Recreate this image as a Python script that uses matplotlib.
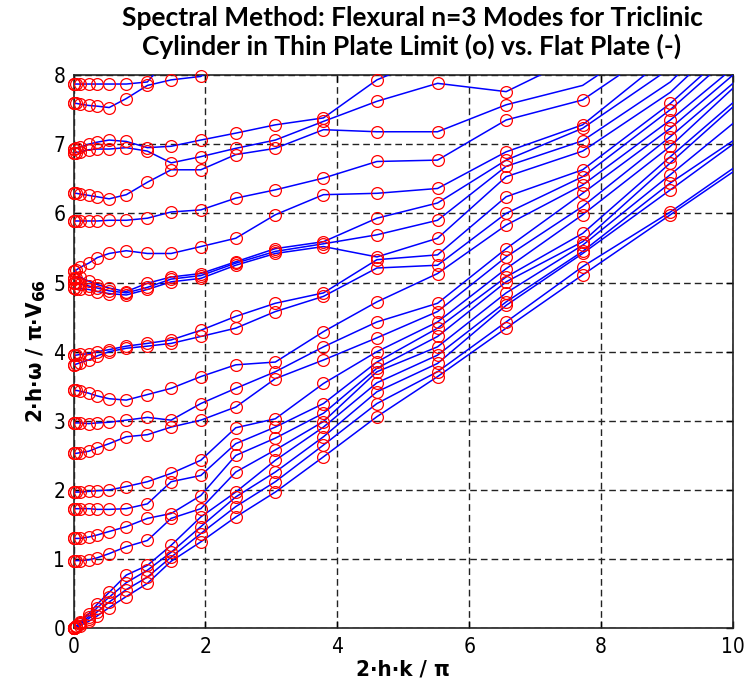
import numpy as np
import matplotlib
matplotlib.use("Agg")
import matplotlib.pyplot as plt
from matplotlib import font_manager

# ---------------- data ----------------
k_cols = [0, 0.01, 0.04, 0.1, 0.23, 0.36, 0.54, 0.8, 1.12, 1.48, 1.93,
          2.46, 3.06, 3.79, 4.6, 5.52, 6.56, 7.72, 9.05, 10]

# frequencies of each column (mode order), one list per k column
w_cols = [
    [0, 0, 0, 0, 0.98, 1.30, 1.73, 1.97, 2.53, 2.97, 3.44, 3.81, 3.95, 4.92, 5.00, 5.05, 5.16, 5.89, 6.29, 6.88, 6.93, 7.59, 7.87],
    [0.005, 0.007, 0.008, 0.01, 0.98, 1.30, 1.73, 1.97, 2.53, 2.97, 3.44, 3.81, 3.95, 4.92, 5.00, 5.06, 5.16, 5.89, 6.29, 6.88, 6.93, 7.59, 7.87],
    [0.02, 0.025, 0.03, 0.035, 0.98, 1.30, 1.73, 1.97, 2.53, 2.97, 3.44, 3.82, 3.95, 4.91, 4.99, 5.07, 5.18, 5.89, 6.29, 6.88, 6.94, 7.59, 7.87],
    [0.04, 0.06, 0.07, 0.09, 0.98, 1.30, 1.73, 1.97, 2.54, 2.97, 3.43, 3.84, 3.96, 4.91, 4.98, 5.08, 5.22, 5.89, 6.28, 6.89, 6.96, 7.58, 7.87],
    [0.10, 0.14, 0.17, 0.21, 0.99, 1.32, 1.73, 1.98, 2.56, 2.96, 3.40, 3.88, 3.97, 4.90, 4.95, 5.02, 5.28, 5.89, 6.26, 6.92, 7.00, 7.56, 7.87],
    [0.18, 0.24, 0.30, 0.35, 1.02, 1.35, 1.72, 1.99, 2.61, 2.97, 3.36, 3.94, 4.00, 4.87, 4.92, 4.97, 5.36, 5.89, 6.24, 6.93, 7.03, 7.55, 7.87],
    [0.30, 0.38, 0.45, 0.52, 1.08, 1.40, 1.72, 2.00, 2.67, 2.98, 3.32, 4.00, 4.03, 4.84, 4.88, 4.92, 5.42, 5.90, 6.21, 6.93, 7.06, 7.53, 7.87],
    [0.46, 0.56, 0.66, 0.77, 1.18, 1.47, 1.73, 2.05, 2.77, 3.01, 3.30, 4.05, 4.08, 4.82, 4.85, 4.87, 5.46, 5.90, 6.27, 6.95, 7.04, 7.66, 7.87],
    [0.65, 0.74, 0.84, 0.91, 1.27, 1.59, 1.80, 2.12, 2.80, 3.05, 3.38, 4.08, 4.12, 4.90, 4.93, 4.99, 5.42, 5.93, 6.45, 6.90, 6.95, 7.85, 7.90],
    [0.97, 1.03, 1.10, 1.20, 1.59, 1.66, 2.12, 2.24, 2.91, 3.01, 3.47, 4.12, 4.17, 5.01, 5.05, 5.08, 5.42, 6.02, 6.63, 6.73, 6.97, 7.93, 8.30],
    [1.25, 1.37, 1.47, 1.61, 1.73, 1.92, 2.21, 2.43, 3.01, 3.25, 3.64, 4.22, 4.31, 5.06, 5.10, 5.13, 5.52, 6.05, 6.63, 6.82, 7.06, 7.98, 8.60],
    [1.61, 1.76, 1.90, 1.97, 2.26, 2.50, 2.67, 2.90, 3.20, 3.47, 3.81, 4.34, 4.51, 5.25, 5.28, 5.30, 5.64, 6.22, 6.85, 6.94, 7.16, 8.30, 9.00],
    [1.97, 2.12, 2.26, 2.43, 2.58, 2.75, 2.91, 3.03, 3.61, 3.71, 3.85, 4.58, 4.70, 5.42, 5.45, 5.49, 5.98, 6.34, 6.94, 7.06, 7.28, 8.70, 9.50],
    [2.48, 2.65, 2.77, 2.91, 2.99, 3.11, 3.25, 3.54, 3.88, 4.07, 4.29, 4.80, 4.85, 5.52, 5.56, 5.59, 6.27, 6.51, 7.21, 7.33, 7.38, 9.30, 10.0],
    [3.06, 3.25, 3.42, 3.55, 3.71, 3.76, 3.85, 4.00, 4.20, 4.43, 4.72, 5.21, 5.33, 5.37, 5.69, 5.93, 6.29, 6.75, 7.18, 7.62, 7.93, 9.90, 10.5],
    [3.64, 3.71, 3.83, 3.95, 4.07, 4.22, 4.34, 4.43, 4.58, 4.70, 5.13, 5.25, 5.40, 5.64, 5.90, 6.15, 6.36, 6.77, 7.18, 7.88, 8.30, 10.4, 11.0],
    [4.34, 4.43, 4.67, 4.72, 4.85, 5.01, 5.08, 5.20, 5.37, 5.49, 5.83, 6.00, 6.24, 6.53, 6.68, 6.77, 6.89, 7.35, 7.57, 7.76, 9.00, 11.0, 11.6],
    [5.11, 5.23, 5.42, 5.45, 5.54, 5.59, 5.71, 5.98, 6.10, 6.29, 6.41, 6.53, 6.63, 6.90, 7.05, 7.23, 7.28, 7.64, 7.85, 8.30, 9.30, 12.0, 12.6],
    [5.98, 6.02, 6.34, 6.44, 6.56, 6.73, 6.82, 6.97, 7.11, 7.23, 7.35, 7.50, 7.59, 7.75, 7.90, 8.10, 8.30, 8.50, 8.70, 9.20, 10.0, 13.0, 14.0],
    [6.60, 6.65, 7.00, 7.05, 7.30, 7.54, 7.60, 7.81, 7.88, 8.00, 8.10, 8.30, 8.40, 8.60, 8.80, 9.00, 9.20, 9.40, 9.60, 10.0, 10.6, 14.0, 15.0],
]

# highest frequency carrying a thin-plate (o) marker in each k column
mark_top = [8, 8, 8, 8, 8, 8, 8, 8, 8, 8, 8, 8, 8, 8, 8, 8, 8, 7.7, 7.65, -1]

title_text = "Spectral Method: Flexural n=3 Modes for Triclinic\nCylinder in Thin Plate Limit (o) vs. Flat Plate (-)"
x_label = "2·h·k / π"
y_label = "2·h·ω / π·V$_{\\mathbf{66}}$"
x_ticks = [0, 2, 4, 6, 8, 10]
y_ticks = [0, 1, 2, 3, 4, 5, 6, 7, 8]

# ---------------- styling ----------------
names = {f.name for f in font_manager.fontManager.ttflist}
title_font = 'Lato' if 'Lato' in names else 'DejaVu Sans'
lab_font = 'DejaVu Sans'

fig = plt.figure(figsize=(7.45, 6.91), dpi=100)
ax = fig.add_axes([0.0987, 0.0907, 0.9839 - 0.0987, 0.8914 - 0.0907])

W = np.array(w_cols)          # shape (n_k, n_modes)
K = np.array(k_cols)
for m in range(W.shape[1]):
    ax.plot(K, W[:, m], color='#0000ff', lw=1.1, zorder=3)

for j, k in enumerate(k_cols):
    ys = [w for w in w_cols[j] if w <= mark_top[j]]
    ax.plot([k] * len(ys), ys, linestyle='none', marker='o', ms=8.5,
            mfc='none', mec='#ff0000', mew=0.9, zorder=4, clip_on=False)

ax.set_xlim(0, 10)
ax.set_ylim(0, 8)
ax.set_xticks(x_ticks)
ax.set_yticks(y_ticks)
ax.grid(True, color='#222222', linestyle=(0, (4.8, 2.9)), linewidth=1.0)
ax.set_axisbelow(True)
ax.tick_params(direction='in', length=5, width=1, top=True, right=True,
               labelsize=15, pad=6)
for lab in ax.get_xticklabels() + ax.get_yticklabels():
    lab.set_fontfamily(lab_font)
    lab.set_fontstretch('condensed')
for s in ax.spines.values():
    s.set_linewidth(1.2)
    s.set_color('#222222')

ax.set_xlabel(x_label, fontsize=16, fontweight='bold', family=lab_font,
              fontstretch='condensed', labelpad=2)
ax.set_ylabel(y_label, fontsize=16, fontweight='bold', family=lab_font,
              fontstretch='condensed', labelpad=4)
fig.text(0.553, 0.992, title_text, ha='center', va='top', fontsize=19,
         fontweight='bold', family=title_font, linespacing=1.2)

fig.savefig('out.png', dpi=100)
